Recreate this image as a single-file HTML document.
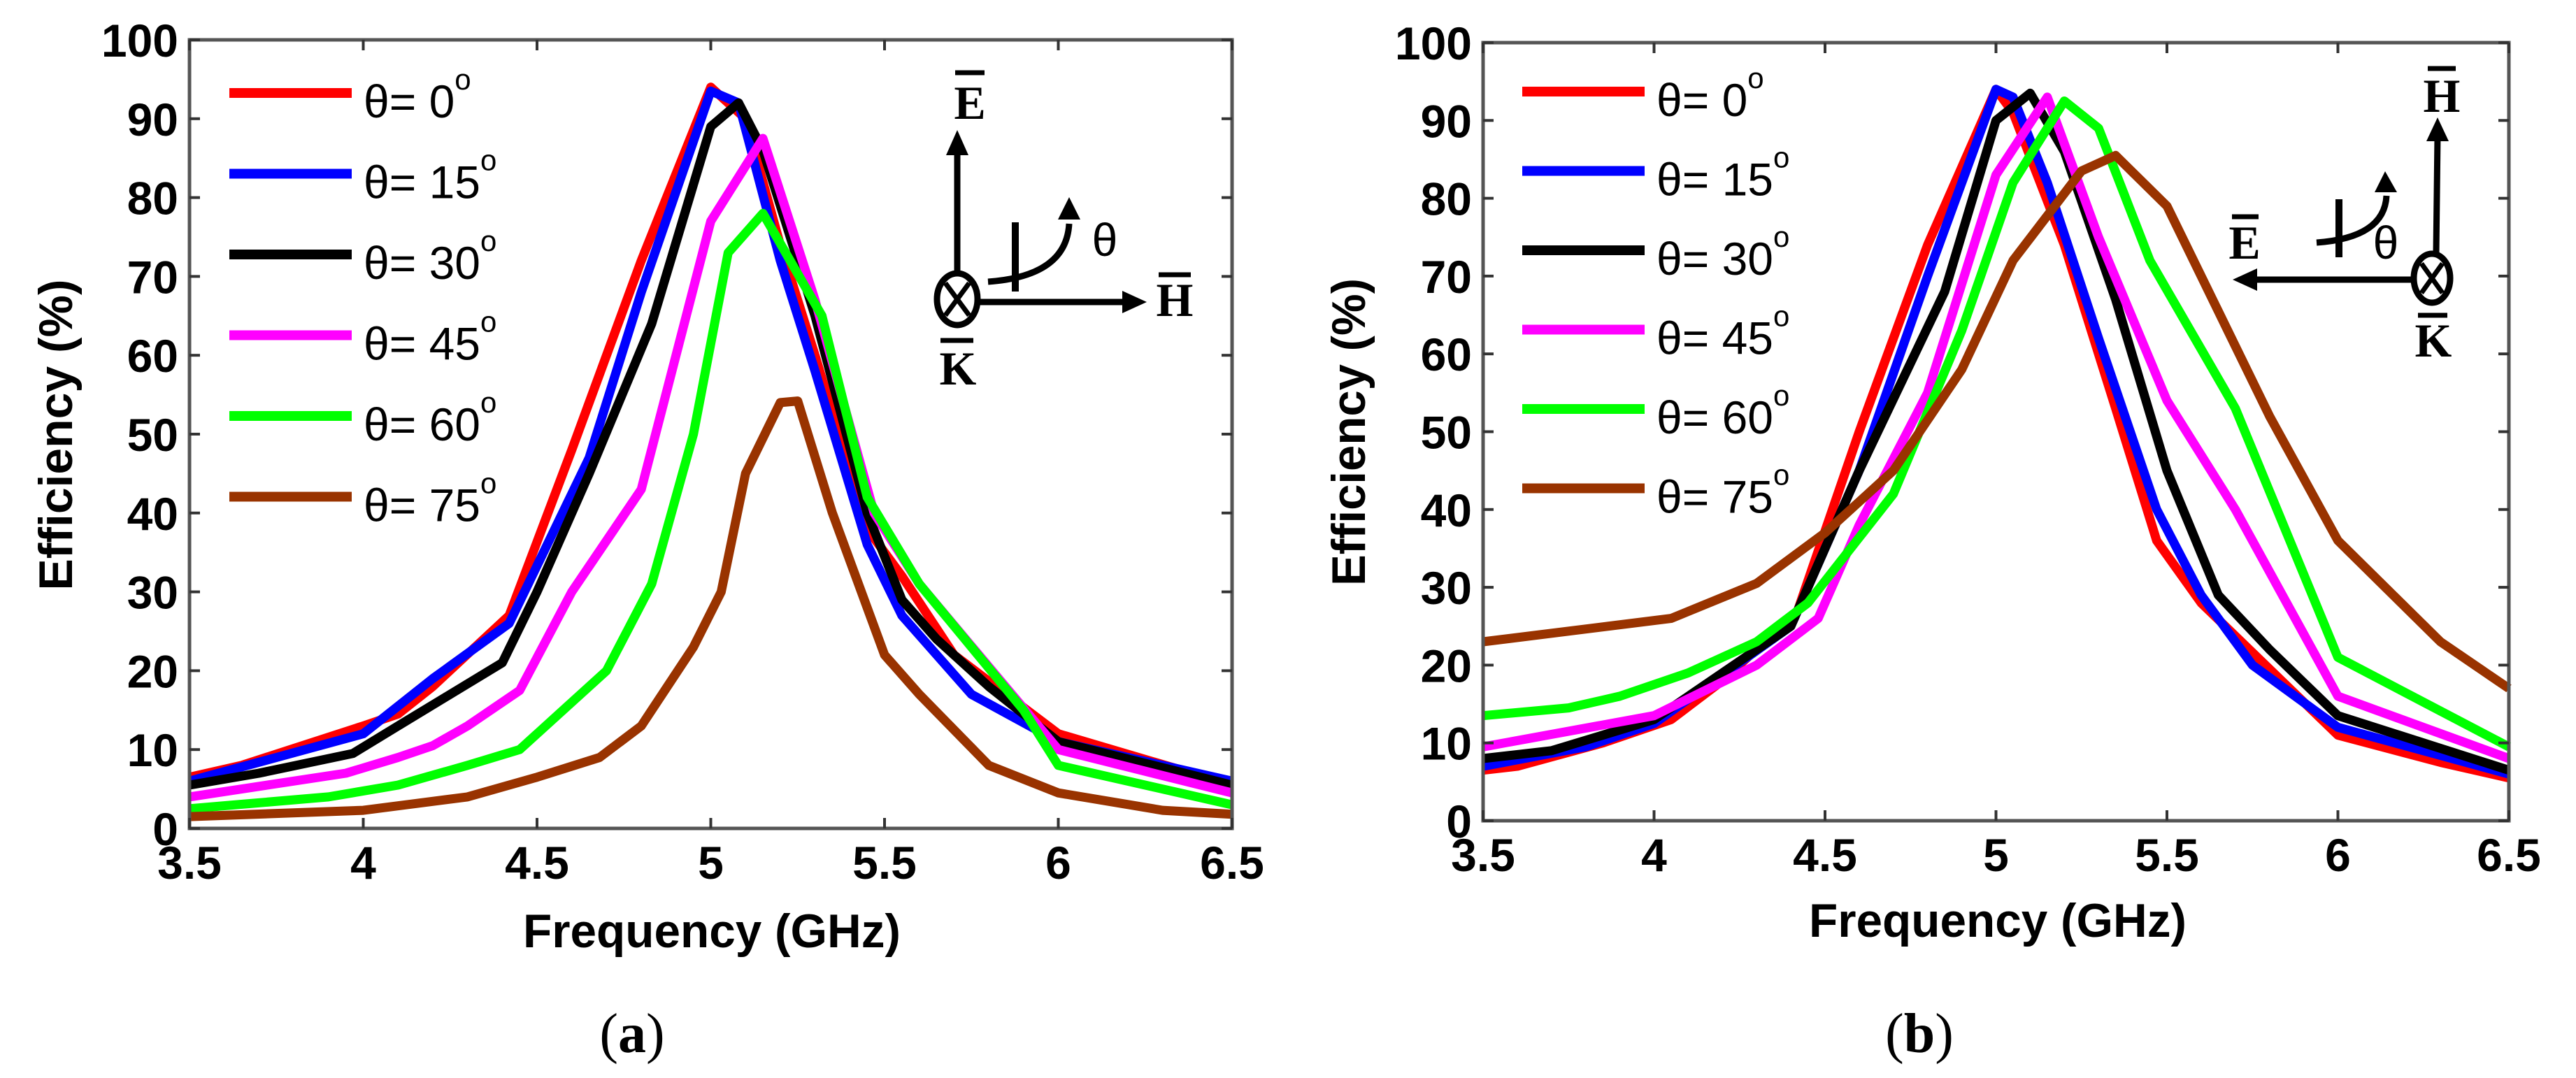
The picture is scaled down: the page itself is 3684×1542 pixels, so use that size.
<!DOCTYPE html>
<html><head><meta charset="utf-8"><style>
html,body{margin:0;padding:0;background:#fff;}
svg{display:block;}
.tick{font-family:"Liberation Sans",Arial,sans-serif;font-weight:bold;font-size:66px;fill:#000;}
.ttl{font-family:"Liberation Sans",Arial,sans-serif;font-weight:bold;font-size:68px;fill:#000;}
.leg{font-family:"Liberation Sans",Arial,sans-serif;font-size:66px;fill:#000;}
.ser{font-family:"Liberation Serif","Times New Roman",serif;font-weight:bold;font-size:68px;fill:#000;}
.cap{font-family:"Liberation Serif","Times New Roman",serif;font-size:80px;fill:#000;}
</style></head><body>
<svg id="fig" width="3684" height="1542" viewBox="0 0 3684 1542" xmlns="http://www.w3.org/2000/svg">
<rect width="3684" height="1542" fill="#fff"/>
<g id="chartA"></g>
<g id="chartB"></g>

<text class="ttl" x="1018" y="1355" text-anchor="middle" textLength="540" lengthAdjust="spacingAndGlyphs">Frequency (GHz)</text>
<text class="ttl" transform="translate(103,622) rotate(-90)" text-anchor="middle" textLength="445" lengthAdjust="spacingAndGlyphs">Efficiency (%)</text>
<text class="cap" x="904" y="1505" text-anchor="middle">(<tspan font-weight="bold">a</tspan>)</text>

<text class="ttl" x="2857" y="1340" text-anchor="middle" textLength="540" lengthAdjust="spacingAndGlyphs">Frequency (GHz)</text>
<text class="ttl" transform="translate(1952,618) rotate(-90)" text-anchor="middle" textLength="440" lengthAdjust="spacingAndGlyphs">Efficiency (%)</text>
<text class="cap" x="2745" y="1505" text-anchor="middle">(<tspan font-weight="bold">b</tspan>)</text>

<!-- diagram A -->
<g stroke="#000" fill="none" stroke-width="9">
  <line x1="1369" y1="395" x2="1369" y2="210"/>
  <polygon points="1369,186 1353,222 1385,222" fill="#000" stroke="none"/>
  <ellipse cx="1369" cy="428" rx="29" ry="37"/>
  <line x1="1352" y1="405" x2="1386" y2="451" stroke-width="7"/>
  <line x1="1386" y1="405" x2="1352" y2="451" stroke-width="7"/>
  <line x1="1400" y1="432" x2="1610" y2="432"/>
  <polygon points="1640,432 1605,416 1605,448" fill="#000" stroke="none"/>
  <path d="M1413,403 Q1525,395 1529,320" />
  <polygon points="1529,282 1513,314 1545,314" fill="#000" stroke="none"/>
  <line x1="1452" y1="318" x2="1452" y2="417" stroke-width="10"/>
</g>
<text class="ser" x="1387" y="170" text-anchor="middle">E</text>
<line x1="1366" y1="104" x2="1408" y2="104" stroke="#000" stroke-width="7"/>
<text class="ser" x="1680" y="452" text-anchor="middle">H</text>
<line x1="1657" y1="393" x2="1703" y2="393" stroke="#000" stroke-width="7"/>
<text class="ser" x="1370" y="550" text-anchor="middle">K</text>
<line x1="1345" y1="487" x2="1392" y2="487" stroke="#000" stroke-width="7"/>
<text class="leg" x="1580" y="366" text-anchor="middle" font-size="58">θ</text>

<!-- diagram B -->
<g stroke="#000" fill="none" stroke-width="9">
  <line x1="3484" y1="362" x2="3486" y2="195"/>
  <polygon points="3486,168 3470,202 3502,202" fill="#000" stroke="none"/>
  <ellipse cx="3478" cy="398" rx="26" ry="35"/>
  <line x1="3463" y1="377" x2="3493" y2="419" stroke-width="7"/>
  <line x1="3493" y1="377" x2="3463" y2="419" stroke-width="7"/>
  <line x1="3450" y1="400" x2="3222" y2="400"/>
  <polygon points="3193,400 3228,384 3228,416" fill="#000" stroke="none"/>
  <path d="M3313,347 Q3410,340 3413,280"/>
  <polygon points="3411,245 3396,275 3428,275" fill="#000" stroke="none"/>
  <line x1="3345" y1="285" x2="3345" y2="368" stroke-width="10"/>
</g>
<text class="ser" x="3492" y="160" text-anchor="middle">H</text>
<line x1="3472" y1="98" x2="3512" y2="98" stroke="#000" stroke-width="7"/>
<text class="ser" x="3210" y="370" text-anchor="middle">E</text>
<line x1="3192" y1="310" x2="3230" y2="310" stroke="#000" stroke-width="7"/>
<text class="ser" x="3480" y="510" text-anchor="middle">K</text>
<line x1="3458" y1="451" x2="3500" y2="451" stroke="#000" stroke-width="7"/>
<text class="leg" x="3412" y="370" text-anchor="middle" font-size="58">θ</text>
</svg>
<script>
const NS="http://www.w3.org/2000/svg";
const xTicks=[3.5,4,4.5,5,5.5,6,6.5];
const xTickLabels=["3.5","4","4.5","5","5.5","6","6.5"];
const yTicks=[0,10,20,30,40,50,60,70,80,90,100];
const seriesNames=["θ= 0","θ= 15","θ= 30","θ= 45","θ= 60","θ= 75"];
const seriesColors=["#ff0000","#0000ff","#000000","#ff00ff","#00ff00","#993300"];

const a0x=[3.5,3.65,4,4.1,4.2,4.42,4.6,4.8,5.0,5.1,5.2,5.3,5.45,5.55,5.7,6.0,6.5];
const a0y=[6.5,8,13,14.5,18,27,48,72,94,90,74,60,38,32,22,12,5.5];
const a1x=[3.5,3.75,4,4.2,4.42,4.65,4.8,5.0,5.08,5.2,5.3,5.45,5.55,5.65,5.75,6.0,6.5];
const a1y=[6,9,12,19,26,47,68,93.5,92,72,58,36,27,22,17,11,6];
const a2x=[3.5,3.7,3.97,4.1,4.4,4.5,4.65,4.83,5.0,5.08,5.15,5.3,5.45,5.55,5.65,5.8,6.0,6.5];
const a2y=[5.5,7,9.5,13,21,30,45,64,89,92,86,65,40,29,24,18,11,5.5];
const a3x=[3.5,3.95,4.1,4.2,4.3,4.45,4.6,4.8,5.0,5.15,5.3,5.47,5.6,6.0,6.5];
const a3y=[4,7,9,10.5,13,17.5,30,43,77,87.5,67,40,31,10,4.5];
const a4x=[3.5,3.9,4.1,4.3,4.45,4.7,4.83,4.95,5.05,5.15,5.32,5.45,5.6,5.9,6.0,6.5];
const a4y=[2.5,4,5.5,8,10,20,31,50,73,78,65,42,31,15,8,3];
const a5x=[3.5,4.0,4.3,4.5,4.68,4.8,4.95,5.03,5.1,5.2,5.25,5.35,5.5,5.6,5.8,6.0,6.3,6.5];
const a5y=[1.5,2.3,4,6.5,9,13,23,30,45,54,54.2,40,22,17,8,4.5,2.3,1.8];

const b0x=[3.5,3.6,3.85,4.05,4.2,4.42,4.6,4.8,5.0,5.05,5.2,5.35,5.47,5.6,6.0,6.3,6.5];
const b0y=[6.5,7,10,13,18,27,50,74,94,91,74,53,36,28,11,7.5,5.5];
const b1x=[3.5,3.8,4.0,4.4,4.6,4.8,5.0,5.05,5.15,5.3,5.47,5.6,5.75,6.0,6.5];
const b1y=[7,9.5,12.5,25,45,70,94,93,82,62,40,29,20,12,6];
const b2x=[3.5,3.7,4.0,4.4,4.6,4.85,5.0,5.1,5.2,5.35,5.5,5.65,5.8,6.0,6.5];
const b2y=[8,9,13,25,45,68,90,93.5,86,67,45,29,22,13.5,6.5];
const b3x=[3.5,4.0,4.3,4.48,4.6,4.8,5.0,5.15,5.3,5.5,5.7,6.0,6.5];
const b3y=[9.5,13.5,20,26,38,55,83,93,75,54,40,16,8];
const b4x=[3.5,3.75,3.9,4.1,4.3,4.45,4.7,4.9,5.05,5.2,5.3,5.45,5.7,6.0,6.5];
const b4y=[13.5,14.5,16,19,23,28,42,63,82,92.5,89,72,53,21,9.5];
const b5x=[3.5,4.05,4.3,4.5,4.7,4.9,5.05,5.25,5.35,5.5,5.8,6.0,6.3,6.5];
const b5y=[23,26,30.5,37,45,58,72,83.5,85.5,79,52,36,23,17];

const seriesA=[[a0x,a0y],[a1x,a1y],[a2x,a2y],[a3x,a3y],[a4x,a4y],[a5x,a5y]];
const seriesB=[[b0x,b0y],[b1x,b1y],[b2x,b2y],[b3x,b3y],[b4x,b4y],[b5x,b5y]];

function mk(tag,attrs,parent){const e=document.createElementNS(NS,tag);for(const k in attrs)e.setAttribute(k,attrs[k]);parent.appendChild(e);return e;}

function drawChart(g,key,L,R,T,B,series,legX,legY0,legStep){
  const sx=v=>L+(v-3.5)/3*(R-L);
  const sy=v=>B-v/100*(B-T);
  series.forEach((s,i)=>{
    const pts=s[0].map((x,j)=>sx(x).toFixed(1)+","+sy(s[1][j]).toFixed(1)).join(" ");
    const pl=mk("polyline",{points:pts,fill:"none",stroke:seriesColors[i],"stroke-width":13,"stroke-linejoin":"round"},g);
    
    
  });
  const ax=mk("rect",{x:L,y:T,width:R-L,height:B-T,fill:"none",stroke:"#555","stroke-width":5},g);
  
  
  xTicks.forEach((v,i)=>{
    const x=sx(v);
    mk("line",{x1:x,y1:B,x2:x,y2:B-15,stroke:"#333","stroke-width":4},g);
    mk("line",{x1:x,y1:T,x2:x,y2:T+15,stroke:"#333","stroke-width":4},g);
    const t=mk("text",{x:x,y:B+72,"text-anchor":"middle",class:"tick"},g);
    t.textContent=xTickLabels[i];
    
    
  });
  yTicks.forEach(v=>{
    const y=sy(v);
    mk("line",{x1:L,y1:y,x2:L+15,y2:y,stroke:"#333","stroke-width":4},g);
    mk("line",{x1:R,y1:y,x2:R-15,y2:y,stroke:"#333","stroke-width":4},g);
    const t=mk("text",{x:L-16,y:y+24,"text-anchor":"end",class:"tick"},g);
    t.textContent=String(v);
    
    
  });
  seriesNames.forEach((n,i)=>{
    const y=legY0+i*legStep;
    const lg=mk("g",{},g);
    
    
    mk("line",{x1:legX,y1:y,x2:legX+175,y2:y,stroke:seriesColors[i],"stroke-width":14},lg);
    const t=mk("text",{x:legX+192,y:y+35,class:"leg"},lg);
    t.textContent=n;
    const sup=mk("tspan",{dy:-40,"font-size":42},t);
    sup.textContent="o";
  });
}
drawChart(document.getElementById("chartA"),"a",271,1762,57,1185,seriesA,328,133,115.5);
drawChart(document.getElementById("chartB"),"b",2121,3588,61,1174,seriesB,2177,131,113.5);
</script>
</body></html>
